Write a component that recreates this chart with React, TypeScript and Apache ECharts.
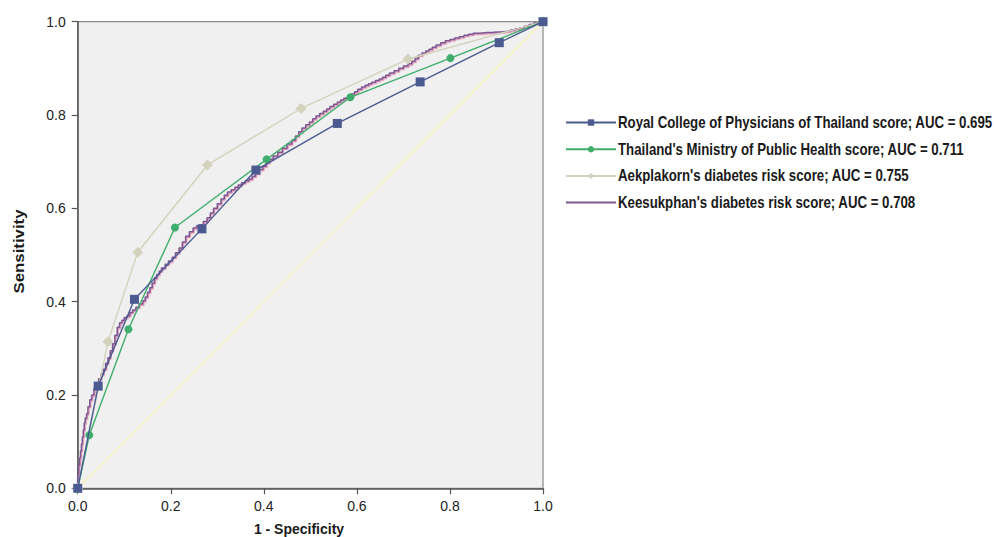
import React, { useEffect, useRef } from "react";
import * as echarts from "echarts";

const seriesNames = [
  "Royal College of Physicians of Thailand score; AUC = 0.695",
  "Thailand's Ministry of Public Health score; AUC = 0.711",
  "Aekplakorn's diabetes risk score; AUC = 0.755",
  "Keesukphan's diabetes risk score; AUC = 0.708",
];

const royalCollege: [number, number][] = [
  [0, 0], [0.044, 0.219], [0.122, 0.405], [0.267, 0.556], [0.383, 0.682],
  [0.558, 0.782], [0.736, 0.871], [0.906, 0.955], [1, 1],
];

const ministry: [number, number][] = [
  [0, 0], [0.025, 0.114], [0.109, 0.341], [0.209, 0.559], [0.406, 0.705],
  [0.586, 0.838], [0.801, 0.922], [1, 1],
];

const aekplakorn: [number, number][] = [
  [0, 0], [0.065, 0.314], [0.129, 0.506], [0.279, 0.693], [0.48, 0.814],
  [0.71, 0.92], [1, 1],
];

const keesukphan: [number, number][] = [
  [0, 0], [0.002, 0.03], [0.004, 0.05], [0.006, 0.065], [0.008, 0.08], [0.01, 0.095],
  [0.012, 0.11], [0.014, 0.125], [0.016, 0.14], [0.019, 0.15], [0.022, 0.16], [0.026, 0.175],
  [0.03, 0.19], [0.035, 0.2], [0.04, 0.215], [0.045, 0.225], [0.05, 0.235], [0.055, 0.245],
  [0.06, 0.255], [0.065, 0.268], [0.07, 0.28], [0.075, 0.295], [0.08, 0.31], [0.085, 0.328],
  [0.09, 0.345], [0.095, 0.355], [0.1, 0.36], [0.106, 0.366], [0.112, 0.37], [0.118, 0.377],
  [0.125, 0.382], [0.132, 0.388], [0.14, 0.395], [0.145, 0.402], [0.15, 0.41], [0.155, 0.42],
  [0.16, 0.43], [0.165, 0.44], [0.17, 0.45], [0.175, 0.458], [0.18, 0.465], [0.188, 0.472],
  [0.195, 0.48], [0.203, 0.487], [0.21, 0.495], [0.218, 0.505], [0.225, 0.515], [0.232, 0.528],
  [0.24, 0.54], [0.248, 0.55], [0.255, 0.558], [0.262, 0.562], [0.27, 0.565], [0.278, 0.572],
  [0.285, 0.58], [0.292, 0.59], [0.3, 0.6], [0.308, 0.61], [0.315, 0.62], [0.322, 0.628],
  [0.33, 0.635], [0.338, 0.64], [0.345, 0.645], [0.352, 0.65], [0.36, 0.655], [0.368, 0.659],
  [0.375, 0.663], [0.382, 0.669], [0.39, 0.675], [0.398, 0.683], [0.405, 0.69], [0.412, 0.698],
  [0.42, 0.705], [0.43, 0.712], [0.44, 0.72], [0.45, 0.729], [0.46, 0.738], [0.468, 0.746],
  [0.475, 0.755], [0.482, 0.764], [0.49, 0.772], [0.498, 0.779], [0.505, 0.785], [0.512, 0.792],
  [0.52, 0.798], [0.528, 0.803], [0.535, 0.808], [0.542, 0.813], [0.55, 0.818], [0.558, 0.823],
  [0.565, 0.828], [0.572, 0.832], [0.58, 0.836], [0.588, 0.84], [0.595, 0.845], [0.602, 0.85],
  [0.61, 0.855], [0.618, 0.86], [0.625, 0.864], [0.632, 0.867], [0.64, 0.87], [0.648, 0.874],
  [0.655, 0.877], [0.662, 0.881], [0.67, 0.885], [0.68, 0.89], [0.69, 0.895], [0.7, 0.9],
  [0.71, 0.905], [0.718, 0.91], [0.725, 0.915], [0.732, 0.921], [0.74, 0.928], [0.748, 0.933],
  [0.755, 0.937], [0.762, 0.941], [0.77, 0.945], [0.78, 0.95], [0.79, 0.955], [0.8, 0.959],
  [0.81, 0.962], [0.82, 0.965], [0.83, 0.968], [0.84, 0.971], [0.85, 0.973], [0.86, 0.975],
  [0.87, 0.976], [0.88, 0.977], [0.89, 0.977], [0.9, 0.978], [0.91, 0.978], [0.92, 0.979],
  [0.93, 0.98], [0.94, 0.982], [0.95, 0.985], [0.96, 0.987], [0.97, 0.99], [0.98, 0.994],
  [0.99, 0.997], [1, 1],
];

const referenceLine: [number, number][] = [[0, 0], [1, 1]];

const xTitle = "1 - Specificity";
const yTitle = "Sensitivity";

const colors = ["#4b5b92", "#3fae6c", "#d3d3bd", "#7a5693"];

export default function App() {
  const ref = useRef<HTMLDivElement>(null);
  useEffect(() => {
    if (!ref.current) return;
    const chart = echarts.init(ref.current, undefined, { renderer: "svg" });
    const axisFont = { fontFamily: "Liberation Sans, Arial, sans-serif", fontSize: 14, color: "#222" };
    const legendFont = "bold 16px Liberation Sans, Arial, sans-serif";
    let legendScale = 0.72;
    try {
      const cv = document.createElement("canvas");
      const ctx = cv.getContext("2d");
      if (ctx) {
        ctx.font = legendFont;
        const w = ctx.measureText(seriesNames[0]).width;
        if (w > 0) legendScale = 375 / w;
      }
    } catch (e) {}
    const legendTop = 110.5;
    const rowStep = 26.7;
    const legendTexts = seriesNames.map((n, i) => ({
      type: "text",
      x: 618,
      y: legendTop + 12 + i * rowStep,
      scaleX: legendScale,
      style: { text: n, font: legendFont, fill: "#1a1a1a", align: "left", verticalAlign: "middle" },
    }));
    chart.setOption({
      animation: false,
      backgroundColor: "#ffffff",
      grid: {
        left: 77.7, top: 21.7, right: 451, bottom: 48.7,
        show: true, backgroundColor: "#f0f0f0", borderColor: "#8a8a8a", borderWidth: 1.2,
      },
      xAxis: {
        type: "value", min: 0, max: 1, interval: 0.2,
        axisLine: { show: true, lineStyle: { color: "#555", width: 1.5 } },
        axisTick: { show: true, length: 6, lineStyle: { color: "#555", width: 1.2 } },
        axisLabel: { ...axisFont, margin: 11, formatter: (v: number) => v.toFixed(1) },
        splitLine: { show: false },
      },
      yAxis: {
        type: "value", min: 0, max: 1, interval: 0.2,
        axisLine: { show: true, lineStyle: { color: "#555", width: 1.5 } },
        axisTick: { show: true, length: 6, lineStyle: { color: "#555", width: 1.2 } },
        axisLabel: { ...axisFont, margin: 12, formatter: (v: number) => v.toFixed(1) },
        splitLine: { show: false },
      },
      legend: {
        orient: "vertical",
        left: 560,
        top: legendTop,
        itemWidth: 50,
        itemHeight: 8,
        itemGap: 12.7,
        data: [
          { name: seriesNames[0] },
          { name: seriesNames[1] },
          { name: seriesNames[2] },
          { name: seriesNames[3], itemStyle: { opacity: 0 } },
        ],
        formatter: () => " ",
        textStyle: { fontSize: 14, lineHeight: 14 },
      },
      graphic: [
        {
          type: "text", x: 299, y: 529,
          style: { text: xTitle, font: "bold 14px Liberation Sans, Arial, sans-serif", fill: "#1a1a1a", align: "center", verticalAlign: "middle" },
        },
        {
          type: "text", x: 19, y: 251.5, rotation: Math.PI / 2, scaleX: 1.2,
          style: { text: yTitle, font: "bold 14px Liberation Sans, Arial, sans-serif", fill: "#1a1a1a", align: "center", verticalAlign: "middle" },
        },
        ...legendTexts,
      ],
      series: [
        {
          name: "ref", type: "line", data: referenceLine, symbol: "none", silent: true,
          lineStyle: { color: "#f5f1c8", width: 2 }, z: 1,
        },
        {
          name: seriesNames[3], type: "line", data: keesukphan, symbol: "none", step: "start",
          lineStyle: {
            color: colors[3], width: 1.5,
            shadowColor: "rgba(215,120,160,0.8)", shadowBlur: 0, shadowOffsetX: 0.8, shadowOffsetY: 1.2,
          },
          itemStyle: { color: colors[3] }, z: 2,
        },
        {
          name: seriesNames[2], type: "line", data: aekplakorn, symbol: "diamond", symbolSize: 11,
          lineStyle: { color: colors[2], width: 1.4 }, itemStyle: { color: colors[2] }, z: 3,
        },
        {
          name: seriesNames[1], type: "line", data: ministry, symbol: "circle", symbolSize: 8,
          lineStyle: { color: colors[1], width: 1.4 }, itemStyle: { color: colors[1] }, z: 4,
        },
        {
          name: seriesNames[0], type: "line", data: royalCollege, symbol: "rect", symbolSize: 9,
          lineStyle: { color: colors[0], width: 1.4 }, itemStyle: { color: colors[0] }, z: 5,
        },
      ],
    });
    return () => chart.dispose();
  }, []);
  return <div ref={ref} style={{ width: 994, height: 537, position: "absolute", left: 0, top: 0 }} />;
}
